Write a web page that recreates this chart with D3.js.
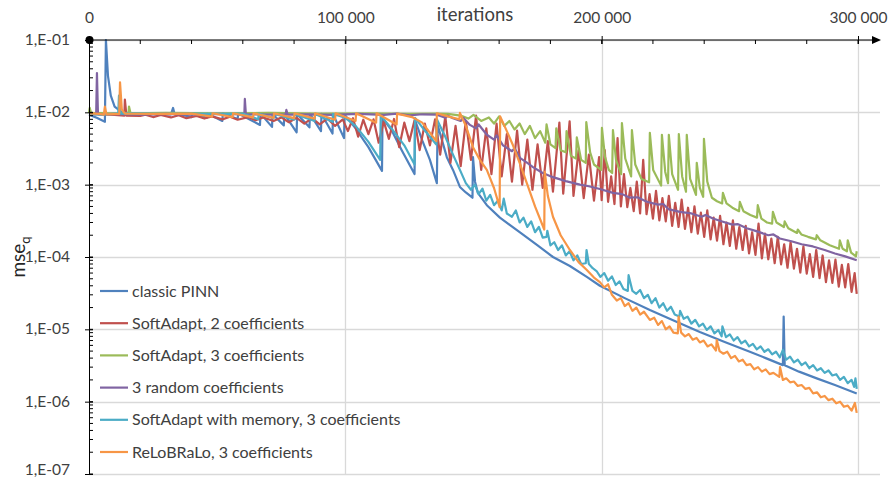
<!DOCTYPE html>
<html>
<head>
<meta charset="utf-8">
<script src="https://cdn.jsdelivr.net/npm/d3@7"></script>
<style>
  body { margin: 0; background: #fff; }
  text { font-family: Lato, "Open Sans", sans-serif; fill: #404040; }
</style>
</head>
<body>
<div id="chart"></div>
<script>

// ---- data (iterations in thousands, mse values) ----
var xTicks = [0, 100, 200, 300];
var xTickLabels = ["0", "100 000", "200 000", "300 000"];
var yTicks = [1e-1, 1e-2, 1e-3, 1e-4, 1e-5, 1e-6, 1e-7];
var yTickLabels = ["1,E-01", "1,E-02", "1,E-03", "1,E-04", "1,E-05", "1,E-06", "1,E-07"];

var seriesNames = ["classic PINN", "SoftAdapt, 2 coefficients", "SoftAdapt, 3 coefficients",
    "3 random coefficients", "SoftAdapt with memory, 3 coefficients", "ReLoBRaLo, 3 coefficients"];
var seriesColors = ["#4F81BD", "#C0504D", "#9BBB59", "#8064A2", "#4BACC6", "#F79646"];

var classicPinn = [[0,9.3e-3],[3,8.4e-3],[6.2,7.4e-3],[6.6,0.1],[7.4,0.032],[8.5,0.017],[10,0.012],[13,0.0099],[20,9.5e-3],[32,9.4e-3],[32.8,0.0115],[33.4,9.4e-3],[36,9.3e-3],[40,8.6e-3],[40.2,9.6e-3],[46,8.4e-3],[46.2,9.6e-3],[52,7.6e-3],[52.2,9.6e-3],[58,8.1e-3],[58.2,9.6e-3],[66.7,6.7e-3],[66.9,9.6e-3],[71.4,6.3e-3],[71.6,9.5e-3],[76,6.6e-3],[76.2,9.5e-3],[81,5.3e-3],[81.2,9.5e-3],[86,6.2e-3],[86.2,9.5e-3],[90.5,5.5e-3],[90.7,9.5e-3],[95,5.1e-3],[95.2,9.4e-3],[99.5,4.4e-3],[99.7,9.3e-3],[104,6.0e-3],[109,3.3e-3],[114.3,1.55e-3],[114.5,8.4e-3],[118,5.7e-3],[122,3.0e-3],[127,1.4e-3],[127.2,7.8e-3],[130,4.1e-3],[133,2.2e-3],[135.7,1.05e-3],[136,6.7e-3],[139.6,2.4e-3],[142,1.6e-3],[144.7,9.3e-4],[147,7.8e-4],[149.6,6.6e-4],[149.8,2.4e-3],[150.6,1.1e-3],[151.7,7.7e-4],[155.2,5.2e-4],[160.3,3.5e-4],[168,2.2e-4],[175,1.45e-4],[181,1.0e-4],[187.6,7.5e-5],[194.2,5.3e-5],[199.3,4.0e-5],[209,2.7e-5],[218.8,1.85e-5],[228.5,1.3e-5],[238.3,9.2e-6],[248,6.7e-6],[257.8,4.9e-6],[264,4.0e-6],[270.7,3.2e-6],[271,1.5e-5],[271.4,3.2e-6],[277,2.6e-6],[283.9,2.1e-6],[291,1.7e-6],[299.5,1.3e-6]];

var softAdapt2 = [[0,9.6e-3],[5,9.4e-3],[10,9.2e-3],[13.8,9.0e-3],[14,0.015],[14.6,9.0e-3],[20,8.9e-3],[22,9.3e-3],[25,8.6e-3],[28,9.2e-3],[32,8.5e-3],[35,9.1e-3],[38,8.3e-3],[42,8.9e-3],[45,8.2e-3],[48,8.8e-3],[52,8.0e-3],[55,8.7e-3],[58,7.9e-3],[62,8.6e-3],[65,7.8e-3],[68,8.5e-3],[72,7.6e-3],[75,8.5e-3],[78,7.3e-3],[81,8.4e-3],[84,7.0e-3],[87,8.3e-3],[90,6.8e-3],[93,8.2e-3],[96,6.5e-3],[99,8.0e-3],[101,5.5e-3],[103,8.3e-3],[105,4.6e-3],[107,7.9e-3],[109,5.0e-3],[111,8.0e-3],[113,3.8e-3],[115,7.5e-3],[117,4.3e-3],[119,8.1e-3],[121,3.3e-3],[123,7.2e-3],[125,4.0e-3],[127,7.8e-3],[129,3.0e-3],[131,7.0e-3],[133,3.5e-3],[135,8.0e-3],[137,2.6e-3],[139,8.8e-3],[141,2.0e-3],[143,6.5e-3],[145,1.8e-3],[147,7.6e-3],[149,2.2e-3],[151,9.0e-3],[153,1.6e-3],[155,6.0e-3],[157,1.4e-3],[159,7.0e-3],[161,1.3e-3],[163,5.0e-3],[165,1.1e-3],[167,5.6e-3],[169,1.0e-3],[171,4.2e-3],[173,8.5e-4],[175,3.6e-3],[177,9.0e-4],[179,4.0e-3],[181,8.0e-4],[183.5,7.2e-3],[185,7.5e-4],[187.5,7.5e-3],[189,7.0e-4],[191,3.0e-3],[193,6.5e-4],[195,2.6e-3],[197,6.0e-4],[199,2.4e-3],[200,6.1e-4],[201.2,3.0e-3],[202.5,5.8e-4],[203.7,1.3e-3],[205,5.4e-4],[206.2,4.4e-3],[207.5,5.0e-4],[208.7,1.4e-3],[210,4.9e-4],[211.2,9.0e-4],[212.5,4.3e-4],[213.7,1.1e-3],[215,4.0e-4],[216.2,2.2e-3],[217.5,3.9e-4],[218.7,7.4e-4],[220,3.4e-4],[221.2,8.2e-4],[222.5,3.2e-4],[223.7,6.5e-4],[225,3.1e-4],[226.2,7.0e-4],[227.5,2.7e-4],[228.7,5.6e-4],[230,2.6e-4],[231.2,6.2e-4],[232.5,2.45e-4],[233.7,4.8e-4],[235,2.2e-4],[236.2,5.0e-4],[237.5,2.1e-4],[238.7,4.1e-4],[240,1.9e-4],[241.2,4.4e-4],[242.5,1.75e-4],[243.7,3.5e-4],[245,1.68e-4],[246.2,3.7e-4],[247.5,1.5e-4],[248.7,3.0e-4],[250,1.42e-4],[251.2,3.2e-4],[252.5,1.3e-4],[253.7,2.6e-4],[255,1.25e-4],[256.2,2.7e-4],[257.5,1.12e-4],[258.7,2.2e-4],[260,1.07e-4],[261.2,2.9e-4],[262.5,9.6e-5],[263.7,2.1e-4],[265,9.3e-5],[266.2,1.8e-4],[267.5,8.2e-5],[268.7,1.9e-4],[270,7.9e-5],[271.2,1.5e-4],[272.5,7.1e-5],[273.7,1.6e-4],[275,6.9e-5],[276.2,1.3e-4],[277.5,6.1e-5],[278.7,1.4e-4],[280,5.9e-5],[281.2,1.1e-4],[282.5,5.3e-5],[283.7,1.25e-4],[285,5.1e-5],[286.2,1.05e-4],[287.5,4.5e-5],[288.7,9.0e-5],[290,4.4e-5],[291.2,9.2e-5],[292.5,3.9e-5],[293.7,7.8e-5],[295,3.8e-5],[296.2,8.0e-5],[297.5,3.3e-5],[298.7,6.0e-5],[299.5,3.1e-5]];

var softAdapt3 = [[0,9.8e-3],[0.3,0.0115],[0.8,9.8e-3],[8,9.7e-3],[15.4,9.7e-3],[15.6,0.012],[16.2,9.7e-3],[30,9.8e-3],[50,9.7e-3],[70,9.8e-3],[90,9.6e-3],[110,9.7e-3],[125,9.5e-3],[135,9.6e-3],[140,9.5e-3],[145,9.0e-3],[148,8.2e-3],[150,9.2e-3],[153,7.6e-3],[156,8.5e-3],[158,7.0e-3],[160,8.8e-3],[162,6.5e-3],[164,7.6e-3],[166,5.8e-3],[168,7.0e-3],[170,5.0e-3],[172,6.5e-3],[174,4.4e-3],[176,5.5e-3],[178,3.8e-3],[178.5,6.8e-3],[180,3.6e-3],[182,3.2e-3],[182.3,6.0e-3],[184,3.0e-3],[186,2.8e-3],[186.3,5.5e-3],[188,2.5e-3],[190,2.3e-3],[190.3,4.5e-3],[192,2.2e-3],[193.8,2.0e-3],[194,7.3e-3],[195.5,2.8e-3],[197,1.9e-3],[199.8,1.6e-3],[200.1,6.1e-3],[201.3,2.4e-3],[202.8,1.6e-3],[204.1,1.45e-3],[204.4,5.7e-3],[205.6,2.2e-3],[207.6,1.4e-3],[207.9,7.1e-3],[209.2,2.3e-3],[211.5,1.3e-3],[211.8,5.7e-3],[213.1,1.9e-3],[215.5,1.2e-3],[218.5,1.08e-3],[218.8,5.2e-3],[220.1,1.6e-3],[223.2,9.7e-4],[223.5,4.9e-3],[224.8,1.5e-3],[225.9,1.05e-3],[226.2,4.9e-3],[227.5,1.4e-3],[229.8,8.5e-4],[230.1,5.0e-3],[231.4,1.3e-3],[232.9,8.0e-4],[233.2,4.9e-3],[234.5,1.2e-3],[236.8,7.2e-4],[237.1,2.0e-3],[238.3,9.0e-4],[239.6,6.8e-4],[239.9,4.3e-3],[241.2,1.1e-3],[243,6.6e-4],[245,5.9e-4],[247,5.5e-4],[247.3,7.7e-4],[248.7,5.5e-4],[251,4.8e-4],[253.6,4.3e-4],[253.9,5.8e-4],[255.3,4.3e-4],[258,3.8e-4],[260.6,3.5e-4],[260.9,5.2e-4],[262.3,3.4e-4],[264.5,3.0e-4],[266.5,2.9e-4],[266.8,4.2e-4],[268.2,3.0e-4],[271.1,2.6e-4],[271.4,3.1e-4],[272.8,2.5e-4],[276.2,2.15e-4],[276.5,2.4e-4],[277.9,2.05e-4],[280.5,1.9e-4],[283.6,1.75e-4],[283.9,2.0e-4],[285.3,1.7e-4],[289,1.45e-4],[292.6,1.3e-4],[292.9,1.7e-4],[294,1.3e-4],[295.7,1.2e-4],[296,1.7e-4],[297.3,1.15e-4],[299.2,1.02e-4],[299.5,1.2e-4]];

var randomCoef3 = [[0,9.5e-3],[2.8,9.4e-3],[3.1,0.035],[3.5,9.4e-3],[10,9.5e-3],[20,9.3e-3],[30,9.5e-3],[40,9.3e-3],[50,9.5e-3],[60.6,9.4e-3],[60.8,0.0153],[61.2,9.4e-3],[70,9.3e-3],[76.7,9.4e-3],[77,0.0108],[77.5,9.3e-3],[85,9.4e-3],[95,9.2e-3],[105,9.5e-3],[115,9.2e-3],[120,9.6e-3],[125,9.1e-3],[130,9.4e-3],[135.7,9.3e-3],[139,8.4e-3],[140,9.0e-3],[142,8.3e-3],[145,7.6e-3],[146,8.4e-3],[148.6,6.7e-3],[151,6.0e-3],[152,6.8e-3],[155.2,4.9e-3],[158,4.2e-3],[159,4.8e-3],[161.5,3.5e-3],[165,2.9e-3],[166,3.2e-3],[168.1,2.35e-3],[171,2.0e-3],[173.2,1.75e-3],[177,1.45e-3],[181,1.27e-3],[186,1.12e-3],[191.5,1.0e-3],[195,9.5e-4],[199.3,8.7e-4],[204.4,7.7e-4],[208,7.4e-4],[211,6.6e-4],[214,6.7e-4],[217.6,5.8e-4],[222,5.3e-4],[224,5.4e-4],[226,4.6e-4],[230.5,4.2e-4],[235,4.0e-4],[239,3.6e-4],[240.5,3.8e-4],[243.4,3.4e-4],[247,3.1e-4],[251,2.8e-4],[253,2.85e-4],[256.6,2.5e-4],[260,2.3e-4],[265,2.0e-4],[267,2.05e-4],[269.5,1.8e-4],[274,1.65e-4],[278,1.5e-4],[282.4,1.4e-4],[287,1.25e-4],[291,1.12e-4],[295,1.02e-4],[299.5,9.0e-5]];

var softAdaptMemory = [[0,9.5e-3],[5,9.3e-3],[11.4,9.6e-3],[11.7,0.017],[12.4,9.6e-3],[20,9.7e-3],[30,9.5e-3],[40,9.6e-3],[50,9.5e-3],[60,9.6e-3],[66,8.0e-3],[66.2,9.6e-3],[72,8.3e-3],[72.2,9.6e-3],[80,7.9e-3],[80.2,9.5e-3],[88,7.6e-3],[88.2,9.5e-3],[95,7.4e-3],[95.2,9.5e-3],[100,8.4e-3],[104,6.5e-3],[109,3.9e-3],[113.6,2.2e-3],[113.8,9.0e-3],[118,6.0e-3],[123,3.5e-3],[127,1.9e-3],[127.2,8.4e-3],[131,5.6e-3],[135.5,3.6e-3],[135.7,8.0e-3],[139,4.6e-3],[142,2.6e-3],[144.7,1.6e-3],[147,1.05e-3],[149,8.5e-4],[150.5,1.0e-3],[152,7.4e-4],[153.5,8.8e-4],[155,6.0e-4],[156.5,7.2e-4],[158,5.2e-4],[159.5,6.0e-4],[161,4.4e-4],[161.8,6.4e-4],[163,4.0e-4],[165,3.6e-4],[166.5,4.4e-4],[168,3.0e-4],[169.5,3.5e-4],[171,2.6e-4],[172.5,3.1e-4],[174,2.2e-4],[175.5,2.6e-4],[177,1.85e-4],[178.5,1.9e-4],[178.8,2.3e-4],[180,1.45e-4],[181.5,1.6e-4],[183,1.25e-4],[184.5,1.45e-4],[186,1.05e-4],[187.5,1.2e-4],[189,9.0e-5],[190.5,1.05e-4],[192,8.0e-5],[193.8,8.2e-5],[194.1,1.25e-4],[195,8.0e-5],[196.5,7.0e-5],[198,6.4e-5],[199.5,5.3e-5],[201,6.0e-5],[202.5,4.7e-5],[204,5.4e-5],[205.5,4.1e-5],[207,4.6e-5],[208.5,3.6e-5],[210.2,3.4e-5],[210.5,5.6e-5],[212,3.4e-5],[213.5,3.1e-5],[215,3.5e-5],[216.5,2.7e-5],[218,3.0e-5],[219.5,2.3e-5],[221,2.7e-5],[222.5,2.0e-5],[224,2.3e-5],[225.5,1.8e-5],[227,2.05e-5],[228.5,1.6e-5],[230.3,1.5e-5],[230.6,1.8e-5],[232,1.4e-5],[233.5,1.5e-5],[235,1.2e-5],[236.5,1.35e-5],[238,1.1e-5],[239.5,1.2e-5],[241,9.8e-6],[242.5,1.1e-5],[244,8.8e-6],[245.5,9.8e-6],[246.8,8.0e-6],[247.1,1.1e-5],[248.5,7.8e-6],[250,8.5e-6],[251.5,7.0e-6],[253,7.8e-6],[254.5,6.4e-6],[256,7.0e-6],[257.5,5.8e-6],[259,6.3e-6],[260.5,5.3e-6],[262,5.8e-6],[263.5,4.9e-6],[265,5.3e-6],[266.5,4.5e-6],[268,4.9e-6],[269.5,4.1e-6],[270.7,5.2e-6],[272,3.8e-6],[273.5,4.2e-6],[275,3.5e-6],[276.5,3.8e-6],[278,3.2e-6],[279.5,3.5e-6],[281,2.9e-6],[282.5,3.2e-6],[284,2.7e-6],[285.5,2.9e-6],[287,2.5e-6],[288.5,2.7e-6],[290,2.3e-6],[291.5,2.4e-6],[293,2.0e-6],[294.5,2.2e-6],[296,1.8e-6],[297.5,2.0e-6],[298.5,1.6e-6],[299,2.1e-6],[299.5,1.5e-6]];

var reLoBRaLo = [[0,9.7e-3],[4,9.5e-3],[5.8,9.3e-3],[6.2,0.012],[6.8,9.4e-3],[11.8,9.5e-3],[12.1,0.026],[12.8,0.011],[14,9.6e-3],[25,9.5e-3],[40,9.6e-3],[48,8.7e-3],[48.2,9.7e-3],[56,8.6e-3],[56.2,9.7e-3],[64,8.5e-3],[64.2,9.7e-3],[72,8.4e-3],[72.2,9.7e-3],[80,8.3e-3],[80.2,9.7e-3],[88,8.2e-3],[88.2,9.7e-3],[96,7.9e-3],[96.2,9.7e-3],[104,7.6e-3],[104.2,9.7e-3],[112,7.2e-3],[112.2,9.7e-3],[120,6.8e-3],[120.2,9.6e-3],[126,8.6e-3],[130,7.2e-3],[135.5,4.0e-3],[135.7,9.7e-3],[140,8.8e-3],[144.5,8.0e-3],[144.7,9.8e-3],[147,6.5e-3],[149.8,3.3e-3],[152.5,2.2e-3],[155.2,1.6e-3],[158,9.0e-4],[160.2,4.9e-4],[160.4,8.8e-3],[163,5.5e-3],[165.4,3.5e-3],[168,2.0e-3],[170.8,1.05e-3],[174,5.0e-4],[177.6,2.4e-4],[177.8,1.5e-3],[179,7.0e-4],[181,3.6e-4],[184,2.0e-4],[187.6,1.25e-4],[191,8.5e-5],[194.2,6.6e-5],[197,5.2e-5],[199.3,4.5e-5],[201,3.8e-5],[202.5,4.2e-5],[204,3.0e-5],[205.9,2.5e-5],[207.5,2.7e-5],[209,2.1e-5],[210.5,2.3e-5],[212,1.8e-5],[213.5,2.0e-5],[215,1.6e-5],[216.5,1.75e-5],[218.8,1.35e-5],[220.5,1.45e-5],[222,1.15e-5],[223.5,1.3e-5],[225,1.0e-5],[226.5,1.1e-5],[228,9.0e-6],[229.7,8.8e-6],[230,1.5e-5],[231,9.0e-6],[232.5,8.0e-6],[234,8.6e-6],[235.5,7.2e-6],[237,7.6e-6],[238.3,6.6e-6],[239.8,7.0e-6],[241.3,5.8e-6],[242.8,6.2e-6],[244.6,5.1e-6],[244.9,7.1e-6],[246,5.0e-6],[247.5,4.6e-6],[249,4.9e-6],[250.5,4.0e-6],[252,4.3e-6],[253.5,3.6e-6],[255,3.8e-6],[256.5,3.2e-6],[258,3.3e-6],[259.5,2.8e-6],[261,3.0e-6],[262.5,2.6e-6],[264,2.8e-6],[265.5,2.4e-6],[267,2.5e-6],[269.3,2.2e-6],[269.6,3.0e-6],[270.7,2.0e-6],[272,2.1e-6],[273.5,1.85e-6],[275,1.9e-6],[276.5,1.65e-6],[278,1.7e-6],[279.5,1.5e-6],[281,1.55e-6],[282.5,1.3e-6],[284,1.35e-6],[285.5,1.15e-6],[287,1.2e-6],[288.5,1.05e-6],[290,1.1e-6],[291.5,9.5e-7],[293,1.0e-6],[294.5,8.5e-7],[296,8.8e-7],[297.5,7.5e-7],[298.8,9.6e-7],[299.5,7.0e-7]];

var allSeries = [classicPinn, softAdapt2, softAdapt3, randomCoef3, softAdaptMemory, reLoBRaLo];

// ---- layout ----
var width = 888, height = 480;
var plotLeft = 89, plotRight = 858, plotTop = 40, plotBottom = 474;

var svg = d3.select("#chart")
    .append("svg")
    .attr("width", width)
    .attr("height", height);

var x = d3.scaleLinear().domain([0, 300]).range([plotLeft, plotRight]);
var y = d3.scaleLog().domain([1e-7, 1e-1]).range([plotBottom, plotTop]);

// gridlines
svg.append("g")
    .selectAll("line")
    .data(yTicks)
    .enter()
    .append("line")
    .attr("x1", plotLeft).attr("x2", 880)
    .attr("y1", function (d) { return Math.round(y(d)) + 0.5 })
    .attr("y2", function (d) { return Math.round(y(d)) + 0.5 })
    .style("stroke", "#d9d9d9")
    .style("stroke-width", 1.3);

svg.append("g")
    .selectAll("line")
    .data(xTicks.slice(1))
    .enter()
    .append("line")
    .attr("x1", function (d) { return Math.round(x(d)) + 0.5 })
    .attr("x2", function (d) { return Math.round(x(d)) + 0.5 })
    .attr("y1", plotTop).attr("y2", plotBottom)
    .style("stroke", "#d9d9d9")
    .style("stroke-width", 1.3);

// series lines
var line = d3.line()
    .x(function (d) { return x(d[0]) })
    .y(function (d) { return y(d[1]) });

svg.append("g")
    .selectAll("path")
    .data(allSeries)
    .enter()
    .append("path")
    .attr("d", line)
    .style("fill", "none")
    .style("stroke", function (d, i) { return seriesColors[i] })
    .style("stroke-width", 2.2)
    .style("stroke-linejoin", "round");

// top x axis
var xAxis = svg.append("g")
    .attr("transform", "translate(0," + plotTop + ")")
    .call(d3.axisTop(x).tickValues(xTicks)
        .tickFormat(function (d, i) { return xTickLabels[i] })
        .tickSize(4).tickPadding(13));
xAxis.select(".domain").remove();
xAxis.selectAll(".tick line").attr("y1", 4).attr("y2", -4).style("stroke", "#000");
xAxis.selectAll("text").style("font-size", "15.5px").style("fill", "#404040");

// minor ticks on top axis
svg.append("g")
    .selectAll("line")
    .data(x.ticks(15))
    .enter()
    .append("line")
    .attr("x1", function (d) { return x(d) }).attr("x2", function (d) { return x(d) })
    .attr("y1", plotTop).attr("y2", plotTop + 4)
    .style("stroke", "#000");

// axis line with arrow
svg.append("line")
    .attr("x1", plotLeft).attr("x2", 873)
    .attr("y1", plotTop).attr("y2", plotTop)
    .style("stroke", "#000").style("stroke-width", 1);
svg.append("path")
    .attr("d", "M872," + (plotTop - 4) + "L881," + plotTop + "L872," + (plotTop + 4) + "Z")
    .style("fill", "#000");

// left y axis
var yAxis = svg.append("g")
    .attr("transform", "translate(" + plotLeft + ",0)")
    .call(d3.axisLeft(y).tickValues(yTicks)
        .tickFormat(function (d, i) { return yTickLabels[i] })
        .tickSize(4).tickPadding(15));
yAxis.select(".domain").style("stroke", "#000").attr("d", "M0.5," + plotTop + "V" + plotBottom);
yAxis.selectAll(".tick line").attr("x1", 4).attr("x2", -4).style("stroke", "#000");
yAxis.selectAll("text")
    .attr("dy", function (d) { return d === 1e-7 ? "0.02em" : "0.28em" })
    .style("font-size", "15.5px").style("fill", "#404040");

// minor ticks on left axis
svg.append("g")
    .selectAll("line")
    .data(y.ticks())
    .enter()
    .append("line")
    .attr("x1", plotLeft).attr("x2", plotLeft + 4)
    .attr("y1", function (d) { return y(d) }).attr("y2", function (d) { return y(d) })
    .style("stroke", "#000");

// origin dot
svg.append("circle")
    .attr("cx", plotLeft + 0.5).attr("cy", plotTop)
    .attr("r", 4)
    .style("fill", "#000");

// axis titles
svg.append("text")
    .attr("x", 475)
    .attr("y", 21)
    .attr("text-anchor", "middle")
    .style("font-size", "18.5px")
    .text("iterations");

var yTitle = svg.append("text")
    .attr("text-anchor", "middle")
    .attr("transform", "translate(25,257) rotate(-90)")
    .style("font-size", "19px")
    .style("fill", "#262626");
yTitle.append("tspan").text("mse");
yTitle.append("tspan").attr("dy", 5).style("font-size", "13px").text("q");

// legend
var legend = svg.append("g")
    .selectAll("g")
    .data(seriesNames)
    .enter()
    .append("g")
    .attr("transform", function (d, i) { return "translate(100," + (291 + i * 32.2) + ")" });

legend.append("line")
    .attr("x1", 0).attr("x2", 28)
    .style("stroke", function (d, i) { return seriesColors[i] })
    .style("stroke-width", 2.2);

legend.append("text")
    .attr("x", 32)
    .attr("dy", "0.35em")
    .style("font-size", "16px")
    .text(function (d) { return d });

</script>
</body>
</html>
